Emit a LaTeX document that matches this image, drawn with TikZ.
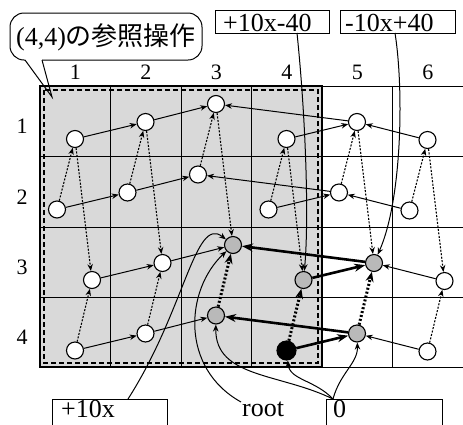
\documentclass[tikz,border=0pt]{standalone}
\usepackage{fontspec}
\setmainfont{Liberation Serif}
\newfontfamily\cjk{Noto Sans CJK JP}
\usetikzlibrary{arrows.meta}
\begin{document}
\begin{tikzpicture}[x=1pt,y=-1pt,
  wn/.style={circle,draw,line width=1.1pt,fill=white,minimum size=17pt,inner sep=0pt},
  gn/.style={fill=gray!55},
  bn/.style={fill=black,minimum size=19pt},
  arr/.style={line width=1pt,-{Stealth[length=7pt,width=5.5pt]}},
  tarr/.style={line width=2.6pt,-{Stealth[length=11pt,width=8pt]}},
  darr/.style={line width=1.1pt,dash pattern=on 2pt off 1.5pt,-{Stealth[length=7pt,width=5.5pt]}},
  tdarr/.style={line width=3pt,dash pattern=on 2pt off 2pt,-{Stealth[length=10pt,width=8pt]}},
  lbl/.style={font=\fontsize{26}{26}\selectfont,inner sep=0pt,text depth=0pt},
  idx/.style={font=\fontsize{22}{22}\selectfont,inner sep=0pt},
  bx/.style={draw,line width=1pt},
  grid/.style={line width=1pt},
  s33/.style={gn},s34/.style={gn},s35/.style={gn},s43/.style={gn},s45/.style={gn},
  s44/.style={bn}
]
\useasboundingbox (0,0) rectangle (463,424);
% shaded area
\fill[gray!30] (40,86) rectangle (322,367);
% grid
\foreach \y in {86,156.5,227,297.5,367} \draw[grid] (40,\y) -- (463,\y);
\foreach \x in {40,110.5,181,251.5,322,392.5} \draw[grid] (\x,86) -- (\x,367);
\draw[line width=1.8pt] (40,86) rectangle (322,367);
\draw[line width=2.2pt,dash pattern=on 5pt off 3pt] (44,90) rectangle (318,363);
% indices
\foreach \c in {1,...,6} \node[idx] (col\c) at ({40+(\c-0.5)*70.5},72) {\c};
\foreach \r in {1,...,4} \node[idx] (row\r) at (22,{86+(\r-0.5)*70.5+5}) {\r};
% nodes
\foreach \r/\xo in {1/35,2/17,3/52,4/35}
  \foreach \c/\yo in {1/53,2/36,3/18,4/53,5/36,6/54}
    \node[wn,s\r\c/.try] (n\r\c) at ({40+(\c-1)*70.5+\xo},{86+(\r-1)*70.5+\yo}) {};
% row edges
\foreach \a/\b in {11/12,12/13,14/15,16/15,15/13,21/22,22/23,24/25,26/25,25/23,31/32,32/33,36/35,41/42,42/43,46/45}
  \draw[arr] (n\a) -- (n\b);
\foreach \a/\b in {34/35,35/33,44/45,45/43}
  \draw[tarr] (n\a) -- (n\b);
% column edges
\foreach \a/\b in {21/11,11/31,41/31,22/12,12/32,42/32,23/13,13/33,24/14,14/34,25/15,15/35,26/16,16/36,46/36}
  \draw[darr] (n\a) -- (n\b);
\foreach \a/\b in {43/33,44/34,45/35}
  \draw[tdarr] (n\a) -- (n\b);
% callout
\draw[line width=1pt,rounded corners=14pt,fill=white] (42,60) -- (202,60) -- (202,13) -- (10,13) -- (10,60) -- (25,60);
\draw[line width=1pt] (25,60) -- (52,97) -- (42,60);
\node[inner sep=0pt,font=\fontsize{26}{26}\selectfont] (call) at (106,37) {(4,4){\cjk の参照操作}};
% top boxes
\draw[bx] (215,10) rectangle (329,33);
\node[lbl,anchor=base west] (b1) at (223,31) {+10x-40};
\draw[bx] (340,10) rectangle (455,33);
\node[lbl,anchor=base west] (b2) at (345,31) {-10x+40};
\coordinate (b1s) at (297,33);
\coordinate (b2s) at (395,33);
\draw[arr] (b1s) .. controls (306,120) and (309,220) .. (n34);
\draw[arr] (b2s) .. controls (404,90) and (402,200) .. (n35);
% bottom boxes
\draw[bx] (52,399) rectangle (167,430);
\node[lbl,anchor=base west] (b3) at (61,417.5) {+10x};
\draw[bx] (326,399) rectangle (442,430);
\node[lbl,anchor=base west] (b4) at (333,417.5) {0};
\node[lbl,anchor=base west] (root) at (242,416.5) {root};
\coordinate (b3n) at (128,399);
\coordinate (b4n) at (333,399);
\coordinate (rootn) at (241,402);
\draw[arr] (b3n) .. controls (185,310) and (195,215) .. (n33);
\draw[arr] (rootn) .. controls (180,368) and (185,290) .. (n33);
\draw[arr] (b4n) .. controls (280,373) and (215,378) .. (n43);
\draw[arr] (b4n) .. controls (315,380) and (290,380) .. (n44);
\draw[arr] (b4n) .. controls (340,373) and (358,363) .. (n45);
\end{tikzpicture}
\end{document}
